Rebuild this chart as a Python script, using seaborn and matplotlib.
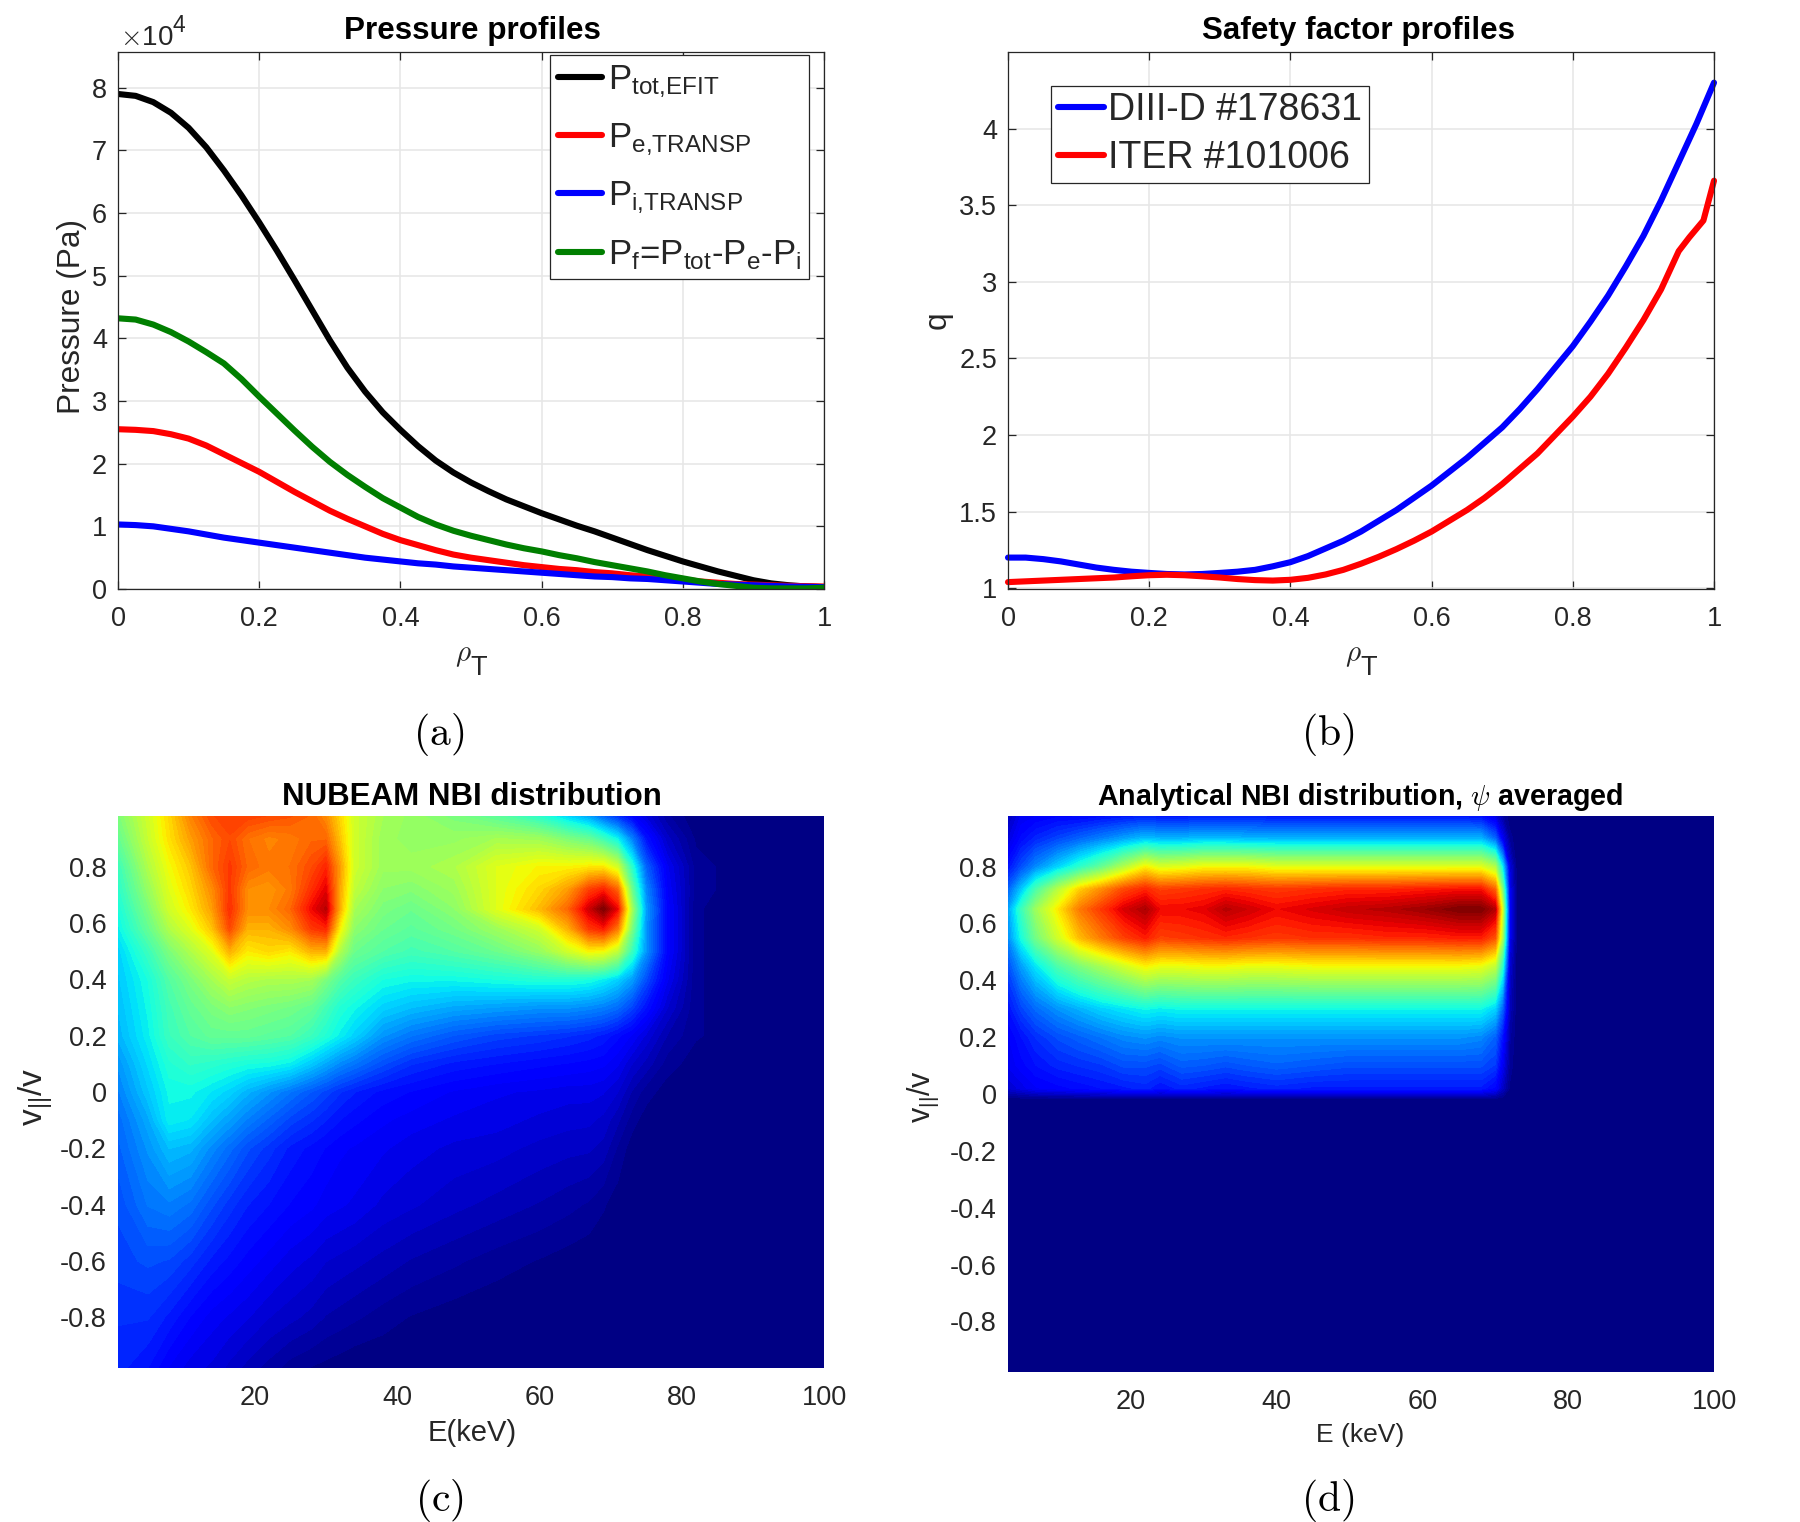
import numpy as np
import pandas as pd
import matplotlib
matplotlib.use("Agg")
import matplotlib.pyplot as plt
import seaborn as sns

W, H = 1800, 1522
INK = "#262626"

# --- radial profiles -------------------------------------------------------
rho = [0, .025, .05, .075, .1, .125, .15, .175, .2, .225, .25, .275, .3, .325, .35, .375, .4, .425, .45, .475,
       .5, .525, .55, .575, .6, .625, .65, .675, .7, .725, .75, .775, .8, .825, .85, .875, .9, .925, .95, .975, 1]
p_tot = [7.9, 7.87, 7.77, 7.6, 7.36, 7.05, 6.68, 6.28, 5.85, 5.4, 4.93, 4.45, 3.97, 3.53, 3.15, 2.82, 2.54, 2.28, 2.05, 1.86,
         1.7, 1.56, 1.43, 1.32, 1.21, 1.11, 1.01, .92, .82, .72, .62, .53, .44, .36, .28, .21, .14, .09, .06, .04, .03]
p_e = [2.55, 2.54, 2.52, 2.47, 2.4, 2.29, 2.15, 2.01, 1.87, 1.71, 1.55, 1.4, 1.25, 1.12, 1.0, .88, .78, .7, .62, .55,
       .5, .46, .42, .38, .35, .32, .3, .27, .25, .22, .2, .17, .15, .12, .1, .08, .07, .06, .05, .045, .04]
p_i = [1.03, 1.02, 1.0, .96, .92, .87, .82, .78, .74, .7, .66, .62, .58, .54, .5, .47, .44, .41, .39, .36,
       .34, .32, .3, .28, .26, .24, .22, .2, .19, .17, .16, .14, .12, .1, .08, .07, .06, .05, .04, .035, .03]
p_f = [4.32, 4.3, 4.22, 4.1, 3.95, 3.78, 3.6, 3.35, 3.07, 2.8, 2.53, 2.27, 2.03, 1.82, 1.63, 1.45, 1.3, 1.15, 1.03, .93,
       .85, .78, .71, .65, .6, .54, .49, .43, .38, .33, .28, .22, .17, .12, .08, .05, .02, .01, .01, .01, .02]

q_diiid = [1.2, 1.2, 1.19, 1.175, 1.155, 1.135, 1.12, 1.108, 1.1, 1.093, 1.09, 1.093, 1.1, 1.108, 1.12, 1.143, 1.17, 1.21, 1.26, 1.31,
           1.37, 1.44, 1.51, 1.59, 1.67, 1.76, 1.85, 1.95, 2.05, 2.17, 2.3, 2.44, 2.58, 2.74, 2.91, 3.1, 3.3, 3.53, 3.78, 4.03, 4.3]
rho_iter = rho[:38] + [.95, .965, .985, 1]
q_iter = [1.04, 1.045, 1.05, 1.055, 1.06, 1.065, 1.07, 1.078, 1.085, 1.088, 1.085, 1.078, 1.07, 1.06, 1.053, 1.05, 1.055, 1.068, 1.09, 1.12,
          1.16, 1.205, 1.255, 1.31, 1.37, 1.44, 1.51, 1.59, 1.68, 1.78, 1.88, 2.0, 2.12, 2.25, 2.4, 2.57, 2.75, 2.95, 3.2, 3.29, 3.4, 3.66]

# --- NUBEAM distribution, jet-normalised, one list per pitch value -----------
e_c = [.8, 5, 8, 11, 14, 16.5, 19, 22, 25, 28, 30, 32, 34, 38, 42, 48, 54, 60, 64, 67, 69, 71, 73, 75, 78, 82, 90, 100]
v_c = [.98, .9, .8, .72, .65, .58, .5, .4, .3, .2, .1, 0, -.1, -.2, -.4, -.6, -.8, -.98]
c_p98 = [.5, .6, .68, .77, .83, .84, .84, .83, .82, .8, .76, .68, .6, .55, .53, .5, .46, .4, .33, .28, .22, .17, .12, .08, .03, 0, 0, 0]
c_p90 = [.47, .59, .67, .74, .8, .83, .79, .77, .78, .8, .8, .7, .6, .54, .53, .53, .55, .54, .5, .47, .42, .36, .25, .14, .06, .01, 0, 0]
c_p80 = [.42, .56, .64, .7, .8, .85, .8, .78, .79, .83, .87, .74, .6, .54, .54, .56, .62, .65, .65, .66, .66, .6, .4, .22, .1, .02, 0, 0]
c_p72 = [.4, .53, .62, .68, .76, .85, .76, .75, .78, .86, .91, .73, .58, .52, .51, .54, .62, .68, .74, .84, .87, .8, .48, .26, .11, .02, 0, 0]
c_p65 = [.38, .5, .6, .66, .74, .86, .76, .76, .8, .9, .95, .72, .55, .5, .48, .52, .62, .71, .8, .93, 1, .9, .55, .28, .12, .015, 0, 0]
c_p58 = [.36, .47, .56, .62, .7, .83, .72, .72, .76, .85, .87, .65, .52, .48, .46, .49, .54, .6, .72, .85, .88, .78, .5, .27, .12, .015, 0, 0]
c_p50 = [.33, .42, .5, .56, .62, .72, .66, .68, .66, .72, .72, .56, .48, .45, .43, .45, .48, .53, .6, .65, .64, .58, .42, .27, .12, .015, 0, 0]
c_p40 = [.32, .38, .45, .5, .55, .59, .57, .56, .56, .55, .5, .45, .42, .38, .37, .37, .38, .39, .39, .38, .36, .33, .28, .2, .1, .015, 0, 0]
c_p30 = [.31, .37, .43, .47, .5, .52, .51, .5, .49, .47, .43, .39, .37, .33, .31, .29, .28, .27, .27, .26, .25, .23, .19, .14, .07, .015, 0, 0]
c_p20 = [.3, .36, .42, .45, .47, .47, .47, .46, .45, .42, .39, .36, .33, .27, .24, .21, .19, .18, .17, .16, .15, .13, .11, .08, .04, .015, 0, 0]
c_p10 = [.27, .34, .39, .41, .4, .39, .38, .375, .36, .32, .29, .26, .24, .2, .17, .15, .14, .13, .125, .12, .115, .1, .07, .05, .02, .005, 0, 0]
c_00 = [.25, .32, .37, .37, .35, .33, .3, .27, .24, .21, .19, .17, .155, .135, .125, .11, .1, .095, .09, .09, .085, .07, .04, .02, .005, 0, 0, 0]
c_m10 = [.23, .29, .36, .35, .31, .28, .25, .22, .19, .17, .155, .14, .13, .115, .105, .095, .09, .08, .075, .073, .065, .045, .02, .005, 0, 0, 0, 0]
c_m20 = [.22, .27, .31, .3, .26, .23, .2, .175, .15, .135, .125, .115, .11, .1, .09, .08, .075, .065, .06, .058, .05, .025, .005, 0, 0, 0, 0, 0]
c_m40 = [.2, .24, .25, .235, .2, .175, .155, .14, .125, .115, .105, .1, .095, .08, .072, .06, .05, .04, .032, .025, .015, .005, 0, 0, 0, 0, 0, 0]
c_m60 = [.19, .2, .195, .175, .15, .135, .12, .105, .09, .08, .07, .065, .06, .05, .04, .03, .02, .012, .006, .002, 0, 0, 0, 0, 0, 0, 0, 0]
c_m80 = [.17, .17, .15, .125, .105, .095, .085, .07, .06, .05, .04, .035, .03, .02, .012, .005, 0, 0, 0, 0, 0, 0, 0, 0, 0, 0, 0, 0]
c_m98 = [.16, .14, .11, .09, .08, .065, .05, .035, .02, .012, .008, .004, 0, 0, 0, 0, 0, 0, 0, 0, 0, 0, 0, 0, 0, 0, 0, 0]
grid_c = [c_p98, c_p90, c_p80, c_p72, c_p65, c_p58, c_p50, c_p40, c_p30, c_p20, c_p10, c_00, c_m10, c_m20, c_m40, c_m60, c_m80, c_m98]

# --- analytical distribution --------------------------------------------------
e_d = [3.15, 5, 7, 10, 13, 16, 19, 22, 24, 27, 30, 33, 36, 40, 45, 50, 55, 60, 65, 68, 70, 71, 72, 73, 100]
v_d = [.98, .9, .8, .72, .65, .55, .45, .3, .2, .1, .02, -.02, -.98]
d_p98 = [.05, .1, .11, .12, .12, .13, .14, .15, .14, .14, .15, .15, .15, .14, .14, .14, .14, .14, .14, .13, .08, .03, 0, 0, 0]
d_p90 = [.08, .13, .16, .19, .22, .25, .28, .31, .3, .3, .31, .31, .3, .3, .3, .3, .3, .3, .3, .3, .22, .1, .02, 0, 0]
d_p80 = [.14, .2, .26, .33, .4, .47, .56, .65, .61, .62, .64, .64, .64, .62, .62, .62, .62, .62, .62, .62, .56, .35, .08, 0, 0]
d_p72 = [.22, .32, .44, .57, .69, .76, .83, .87, .84, .85, .86, .87, .86, .85, .86, .87, .87, .88, .89, .89, .8, .5, .1, 0, 0]
d_p65 = [.28, .42, .54, .66, .78, .85, .92, .96, .9, .9, .91, .95, .93, .9, .92, .94, .95, .97, 1, 1, .95, .6, .1, 0, 0]
d_p55 = [.26, .38, .49, .6, .71, .78, .84, .88, .84, .85, .86, .87, .86, .85, .86, .86, .87, .87, .88, .88, .82, .55, .1, 0, 0]
d_p45 = [.2, .28, .35, .44, .5, .55, .6, .65, .63, .63, .64, .64, .63, .63, .64, .64, .64, .64, .64, .63, .58, .4, .07, 0, 0]
d_p30 = [.14, .19, .23, .27, .3, .33, .35, .37, .36, .37, .37, .37, .37, .37, .37, .37, .37, .37, .37, .37, .33, .22, .05, 0, 0]
d_p20 = [.11, .14, .17, .2, .22, .24, .26, .27, .26, .27, .27, .27, .27, .27, .27, .27, .27, .27, .27, .26, .22, .14, .03, 0, 0]
d_p10 = [.1, .12, .14, .16, .17, .18, .2, .2, .19, .215, .21, .2, .21, .22, .21, .2, .2, .2, .2, .2, .18, .1, .02, 0, 0]
d_p02 = [.07, .09, .11, .12, .13, .14, .15, .16, .14, .16, .15, .14, .15, .16, .15, .15, .15, .15, .15, .15, .12, .06, .01, 0, 0]
d_m02 = [0] * len(e_d)
d_m98 = [0] * len(e_d)
grid_d = [d_p98, d_p90, d_p80, d_p72, d_p65, d_p55, d_p45, d_p30, d_p20, d_p10, d_p02, d_m02, d_m98]

sns.set_theme(style="whitegrid")
plt.rcParams.update({
    "font.family": ["Liberation Sans", "DejaVu Sans"],
    "mathtext.fontset": "custom",
    "mathtext.rm": "Liberation Sans",
    "mathtext.it": "Liberation Sans:italic",
    "mathtext.bf": "Liberation Sans:bold",
    "mathtext.sf": "Liberation Sans",
    "text.color": INK,
    "axes.labelcolor": INK,
})

fig = plt.figure(figsize=(W / 100, H / 100), dpi=100, facecolor="white")


def panel(x0, y0, x1, y1):
    return fig.add_axes([x0 / W, 1 - y1 / H, (x1 - x0) / W, (y1 - y0) / H])


def put(x, y, s, size, **kw):
    kw.setdefault("ha", "center")
    kw.setdefault("va", "center")
    return fig.text(x / W, 1 - y / H, s, fontsize=size, **kw)


def style_line_axes(ax):
    ax.grid(True, color="#e6e6e6", lw=1.1)
    ax.set_axisbelow(True)
    for s in ax.spines.values():
        s.set_visible(True)
        s.set_color(INK)
        s.set_linewidth(0.9)
    ax.tick_params(axis="y", which="both", direction="in", length=6, width=0.9, color=INK,
                   labelsize=19.5, labelcolor=INK, left=True, right=True, pad=8)
    ax.tick_params(axis="x", which="both", direction="in", length=6, width=0.9, color=INK,
                   labelsize=19.5, labelcolor=INK, top=True, bottom=True, pad=12.5)
    ax.set_xlabel("")
    ax.set_ylabel("")


def frac_ticks():
    return [0, .2, .4, .6, .8, 1], ["0", "0.2", "0.4", "0.6", "0.8", "1"]


# (a) pressure
ax_a = panel(118, 52, 824, 589)
names_a = [r"$\mathrm{P}_{\mathrm{tot{,}EFIT}}$", r"$\mathrm{P}_{\mathrm{e{,}TRANSP}}$",
           r"$\mathrm{P}_{\mathrm{i{,}TRANSP}}$",
           r"$\mathrm{P}_{\mathrm{f}}$=$\mathrm{P}_{\mathrm{tot}}$-$\mathrm{P}_{\mathrm{e}}$-$\mathrm{P}_{\mathrm{i}}$"]
series_a = [p_tot, p_e, p_i, p_f]
colors_a = ["black", "#ff0000", "#0000ff", "#007f00"]
for name, vals, col in zip(names_a, series_a, colors_a):
    frame = pd.DataFrame({"rho": rho, "p": np.array(vals) * 1e4})
    sns.lineplot(data=frame, x="rho", y="p", ax=ax_a, color=col, lw=4.4,
                 label=name, estimator=None, sort=False, clip_on=True)
ax_a.set_xlim(0, 1)
ax_a.set_ylim(0, 8.57e4)
style_line_axes(ax_a)
ax_a.set_xticks(*frac_ticks())
ax_a.set_yticks(np.arange(9) * 1e4, [str(i) for i in range(9)])
ax_a.legend(loc="upper left", bbox_to_anchor=(0.6125, 0.9935), borderaxespad=0,
            fontsize=25, frameon=True, fancybox=False, framealpha=1,
            edgecolor=INK, handlelength=1.27, handletextpad=0.18, labelspacing=0.62,
            borderpad=0.22).get_frame().set_linewidth(0.9)

# (b) safety factor
ax_b = panel(1008, 52, 1714, 589)
for name, xs, vals, col in [("DIII-D #178631", rho, q_diiid, "#0000ff"),
                            ("ITER #101006", rho_iter, q_iter, "#ff0000")]:
    frame = pd.DataFrame({"rho": xs, "q": vals})
    sns.lineplot(data=frame, x="rho", y="q", ax=ax_b, color=col, lw=4.4, label=name,
                 estimator=None, sort=False, clip_on=False)
ax_b.set_xlim(0, 1)
ax_b.set_ylim(0.995, 4.5)
style_line_axes(ax_b)
ax_b.set_xticks(*frac_ticks())
ax_b.set_yticks([1, 1.5, 2, 2.5, 3, 3.5, 4], ["1", "1.5", "2", "2.5", "3", "3.5", "4"])
ax_b.legend(loc="upper left", bbox_to_anchor=(0.0615, 0.9365), borderaxespad=0,
            fontsize=27, frameon=True, fancybox=False, framealpha=1,
            edgecolor=INK, handlelength=1.23, handletextpad=0.12, labelspacing=0.32,
            borderpad=0.17).get_frame().set_linewidth(0.9)

# (c), (d) distributions as filled contours
levels = np.linspace(-0.001, 1.001, 72)


def dist_panel(ax, es, vs, grid, xlim, ylim):
    ax.contourf(es, vs, np.array(grid), levels=levels, cmap="jet", vmin=0, vmax=1,
                antialiased=False)
    ax.set_xlim(*xlim)
    ax.set_ylim(*ylim)
    ax.grid(False)
    for s in ax.spines.values():
        s.set_visible(False)
    ax.tick_params(axis="y", length=0, labelsize=19.5, labelcolor=INK, pad=8)
    ax.tick_params(axis="x", length=0, labelsize=19.5, labelcolor=INK, pad=12)
    ax.set_xticks([20, 40, 60, 80, 100], ["20", "40", "60", "80", "100"])
    ticks = [-.8, -.6, -.4, -.2, 0, .2, .4, .6, .8]
    ax.set_yticks(ticks, ["-0.8", "-0.6", "-0.4", "-0.2", "0", "0.2", "0.4", "0.6", "0.8"])


ax_c = panel(118, 816, 824, 1368)
dist_panel(ax_c, e_c, v_c, grid_c, (0.8, 100), (-.98, .98))
ax_d = panel(1008, 816, 1714, 1372)
dist_panel(ax_d, e_d, v_d, grid_d, (3.15, 100), (-.978, .978))

# Titles
put(472, 31, "Pressure profiles", 22.6, fontweight="bold", color="black")
put(1359, 31, "Safety factor profiles", 22.6, fontweight="bold", color="black")
put(472, 797, "NUBEAM NBI distribution", 22.5, fontweight="bold", color="black")
put(1360, 797, r"Analytical NBI distribution, $\psi$ averaged", 20.6, fontweight="bold",
    color="black", math_fontfamily="cm")

# Axis labels
put(72, 316, "Pressure (Pa)", 22.8, rotation=90)
put(938, 320, "q", 22.8, rotation=90)
for x in (463, 1353):
    put(x, 655, r"$\rho$", 21, math_fontfamily="cm")
    put(x + 16, 668, "T", 19.5)
put(472, 1433, "E(keV)", 21)
put(1360, 1435, "E (keV)", 19)
put(36, 1097, r"$\mathrm{v}_{||}$/v", 24, rotation=90)
put(923, 1096, r"$\mathrm{v}_{||}$/v", 22, rotation=90)

# Exponent marker for panel (a)
put(120, 38, r"$\times$10", 20, ha="left", math_fontfamily="cm")
put(179, 26, "4", 16.5, ha="center")

# Panel captions
for x, y, s in [(439, 734, "a"), (1328, 734, "b"), (439, 1500, "c"), (1328, 1500, "d")]:
    put(x, y, rf"$\mathrm{{({s})}}$", 30, math_fontfamily="cm", color="black")

fig.savefig("out.png", dpi=100)
